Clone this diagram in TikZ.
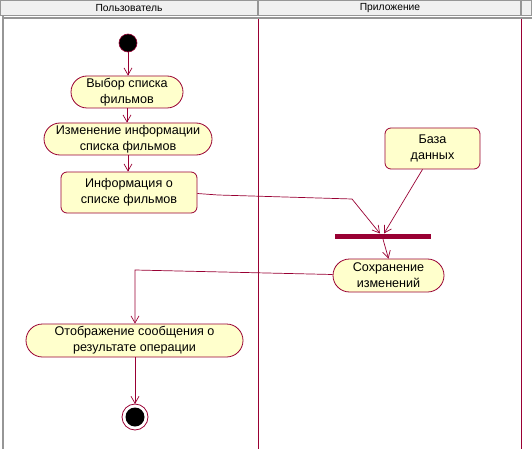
\documentclass[tikz,border=0pt]{standalone}
\usepackage{fontspec}
\setmainfont{Liberation Sans}
\usetikzlibrary{shapes.misc, arrows.meta}

\definecolor{laneline}{RGB}{153,0,51}
\definecolor{actfill}{RGB}{255,255,204}
\definecolor{headfill}{RGB}{240,240,240}
\definecolor{headline}{RGB}{150,150,150}

\begin{document}
\begin{tikzpicture}[x = 1pt, y = -1pt, > = {Straight Barb[length = 7pt, width = 8pt]},
	activity/.style = {rounded rectangle, draw = laneline, fill = actfill, line width = 0.8pt,
		align = center, inner sep = 0pt, font = \fontsize{12.6}{16}\selectfont},
	object/.style = {rectangle, rounded corners = 6pt, draw = laneline, fill = actfill, line width = 0.8pt,
		align = center, inner sep = 0pt, font = \fontsize{12.6}{16}\selectfont},
	flow/.style = {draw = laneline, line width = 0.7pt, ->}]

	% Definitions

	\def\wpic{532}		% picture width
	\def\hpic{449}		% picture height
	\def\lane{258}		% border between the two swimlanes
	\def\laneend{521}	% right border of second swimlane

	\useasboundingbox (0, 0) rectangle (\wpic, \hpic);
	\fill [white] (0, 0) rectangle (\wpic, \hpic);

	% Swimlane headers

	\filldraw [fill = headfill, draw = headline, line width = 0.8pt] (0.5, 0.5) rectangle (\wpic - 0.5, 15.5);
	\draw [headline, line width = 1.2pt] (\lane, 0.5) -- (\lane, 15.5);
	\draw [headline, line width = 1.2pt] (\laneend, 0.5) -- (\laneend, 15.5);
	\node (hUser) at (129, 8) {\fontsize{10.3}{12}\selectfont Пользователь};
	\node (hApp) at (390, 8) {\fontsize{10.3}{12}\selectfont Приложение};

	\draw [headline, line width = 1.2pt] (3, 18) -- (\wpic, 18);
	\draw [headline, line width = 2pt] (3, 16) -- (3, \hpic);
	\draw [laneline, line width = 0.8pt] (\lane, 19) -- (\lane, \hpic);
	\draw [laneline, line width = 0.8pt] (\laneend, 19) -- (\laneend, \hpic);

	% Activities and objects

	\fill [black] (128, 43) circle (9) coordinate (start);
	\draw [laneline, line width = 0.6pt] (128, 43) circle (9);
	\node [activity, minimum width = 112pt, minimum height = 32pt] (choose) at (127, 92) {Выбор списка\\фильмов};
	\node [activity, minimum width = 168pt, minimum height = 32pt] (change) at (128, 139) {Изменение информации\\списка фильмов};
	\node [object, minimum width = 136pt, minimum height = 41pt] (info) at (129, 192.5) {Информация о\\списке фильмов};
	\node [object, minimum width = 95pt, minimum height = 41pt] (base) at (432.5, 148.5) {База\\данных};
	\node [fill = laneline, minimum width = 96pt, minimum height = 5pt, inner sep = 0pt] (join) at (383, 236.5) {};
	\node [activity, minimum width = 111pt, minimum height = 33pt] (save) at (388.5, 275.5) {Сохранение\\изменений};
	\node [activity, minimum width = 217pt, minimum height = 33pt] (show) at (134.5, 340.5) {Отображение сообщения о\\результате операции};

	\draw [laneline, line width = 0.8pt] (135, 417) circle (13);
	\fill [black] (135, 417) circle (9.5);
	\coordinate (stop) at (135, 404);

	% Transitions

	\coordinate (bendInfo) at (352, 199);
	\coordinate (bendSave) at (135, 270);

	\draw [flow] (start) ++(0, 9) -- (choose.north -| start);
	\draw [flow] (choose.south) -- (change.north -| choose.south);
	\draw [flow] (change.south) -- (info.north -| change.south);
	\draw [flow] (info.east) ++(0, 1) -- (218, 195) -- (bendInfo) -- (380, 233.5);
	\draw [flow] (base.south) ++(-10, 0) -- (384, 233.5);
	\draw [flow] (join.south) -- (save.north);
	\draw [flow] (save.west) ++(0, -1) -- (bendSave) -- (show.north -| bendSave);
	\draw [flow] (show.south -| stop) -- (stop);

\end{tikzpicture}
\end{document}
